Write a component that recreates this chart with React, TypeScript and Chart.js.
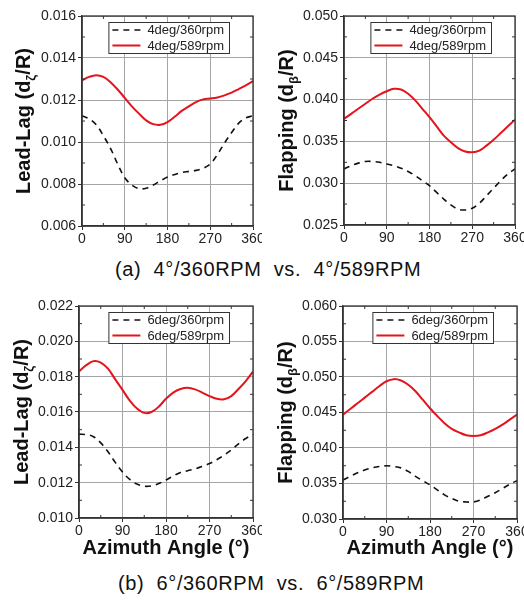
import React, { useEffect, useRef } from 'react';
import { Chart, registerables } from 'chart.js';
Chart.register(...registerables);

const FONT = '"Liberation Sans", Arial, Helvetica, sans-serif';
Chart.defaults.font.family = FONT;

// azimuth angle (deg)
const azimuth = [0, 15, 30, 45, 60, 75, 90, 105, 120, 135, 150, 165, 180, 195, 210, 225, 240, 255, 270, 285, 300, 315, 330, 345, 360];
const xTickValues = [0, 90, 180, 270, 360];

// (a) 4 deg
const leadLag4deg360 = [0.01125, 0.0111, 0.01082, 0.0103, 0.0097, 0.00895, 0.0083, 0.00795, 0.00778, 0.0078, 0.00795, 0.00815, 0.00833, 0.00845, 0.00855, 0.0086, 0.00865, 0.00875, 0.00895, 0.0094, 0.00995, 0.01045, 0.0109, 0.01115, 0.01125];
const leadLag4deg589 = [0.01294, 0.0131, 0.01318, 0.0131, 0.01285, 0.0125, 0.0121, 0.0117, 0.01135, 0.01103, 0.01085, 0.01082, 0.01095, 0.0112, 0.01148, 0.0117, 0.0119, 0.01203, 0.01207, 0.01212, 0.01222, 0.01235, 0.01252, 0.0127, 0.0129];
const flap4deg360 = [0.0317, 0.0321, 0.0324, 0.0326, 0.0326, 0.0325, 0.0323, 0.0321, 0.0318, 0.0314, 0.0309, 0.0303, 0.0297, 0.0289, 0.0281, 0.0274, 0.0269, 0.0268, 0.027, 0.0276, 0.0285, 0.0294, 0.0303, 0.0311, 0.0317];
const flap4deg589 = [0.0377, 0.0383, 0.0389, 0.0395, 0.0401, 0.0406, 0.041, 0.0413, 0.0412, 0.0407, 0.0399, 0.0389, 0.0379, 0.0368, 0.0357, 0.0349, 0.0342, 0.0338, 0.0337, 0.0339, 0.0345, 0.0352, 0.036, 0.0368, 0.0376];

// (b) 6 deg
const leadLag6deg360 = [0.01475, 0.01472, 0.0146, 0.01425, 0.01375, 0.01315, 0.0126, 0.01218, 0.01192, 0.0118, 0.01182, 0.01195, 0.01215, 0.01238, 0.01258, 0.01268, 0.01278, 0.01292, 0.01308, 0.0133, 0.01355, 0.01385, 0.0142, 0.0145, 0.01472];
const leadLag6deg589 = [0.0183, 0.01865, 0.01888, 0.0188, 0.01845, 0.01785, 0.01725, 0.01665, 0.0162, 0.01595, 0.016, 0.0163, 0.01675, 0.0171, 0.0173, 0.01737, 0.01728, 0.0171, 0.0169, 0.01675, 0.01672, 0.0169, 0.0173, 0.01775, 0.01828];
const flap6deg360 = [0.0355, 0.036, 0.0365, 0.0369, 0.0372, 0.0374, 0.0375, 0.0374, 0.0372, 0.0367, 0.036, 0.0354, 0.0348, 0.0341, 0.0334, 0.0329, 0.0325, 0.0324, 0.0324, 0.0327, 0.0332, 0.0337, 0.0343, 0.0349, 0.0354];
const flap6deg589 = [0.0447, 0.0455, 0.0463, 0.0471, 0.0479, 0.0487, 0.0494, 0.0497, 0.0495, 0.0489, 0.048, 0.0468, 0.0456, 0.0445, 0.0435, 0.0427, 0.0422, 0.0418, 0.0417, 0.0418, 0.0422, 0.0427, 0.0433, 0.044, 0.0447];

const labels4 = ['4deg/360rpm', '4deg/589rpm'];
const labels6 = ['6deg/360rpm', '6deg/589rpm'];
const leadLagTitle = ['Lead-Lag (d', 'ζ', '/R)'];
const flapTitle = ['Flapping (d', 'β', '/R)'];
const xTitle = 'Azimuth Angle (°)';
const captionA = '(a)  4°/360RPM  vs.  4°/589RPM';
const captionB = '(b)  6°/360RPM  vs.  6°/589RPM';

type PanelProps = {
  left: number; top: number; width: number; height: number;
  ca: { l: number; r: number; t: number; b: number };
  yMin: number; yMax: number; yStep: number;
  yTitle: string[]; yTitleX: number;
  labels: string[]; low: number[]; high: number[];
  showXTitle: boolean;
};

function Panel(p: PanelProps) {
  const ref = useRef<HTMLCanvasElement | null>(null);
  useEffect(() => {
    if (!ref.current) return;
    const framePlugin = {
      id: 'frameExtras',
      afterDatasetsDraw(chart: any) {
        const { ctx, chartArea: ca } = chart;
        const xs = chart.scales.x, ys = chart.scales.y;
        ctx.save();
        // frame
        ctx.strokeStyle = '#333';
        ctx.lineWidth = 1.3;
        ctx.strokeRect(ca.left, ca.top, ca.right - ca.left, ca.bottom - ca.top);
        // minor ticks
        ctx.lineWidth = 1;
        ctx.beginPath();
        for (let i = 0; i < xTickValues.length - 1; i++) {
          const v = (xTickValues[i] + xTickValues[i + 1]) / 2;
          const px = xs.getPixelForValue(v);
          ctx.moveTo(px, ca.bottom); ctx.lineTo(px, ca.bottom - 3);
          ctx.moveTo(px, ca.top); ctx.lineTo(px, ca.top + 3);
        }
        const n = Math.round((p.yMax - p.yMin) / p.yStep);
        for (let i = 0; i < n; i++) {
          const v = p.yMin + p.yStep * (i + 0.5);
          const py = ys.getPixelForValue(v);
          ctx.moveTo(ca.left, py); ctx.lineTo(ca.left + 3, py);
          ctx.moveTo(ca.right, py); ctx.lineTo(ca.right - 3, py);
        }
        ctx.stroke();
        // legend
        ctx.font = '13px ' + FONT;
        const tw = Math.max(...chart.data.datasets.map((d: any) => ctx.measureText(d.label).width));
        const boxW = 4 + 28 + 7 + tw + 5;
        const boxR = ca.right - 24;
        const boxL = boxR - boxW;
        const boxT = ca.top + 6;
        const boxH = 31;
        ctx.fillStyle = '#fff';
        ctx.fillRect(boxL, boxT, boxW, boxH);
        ctx.strokeStyle = '#333';
        ctx.lineWidth = 1;
        ctx.strokeRect(boxL + 0.5, boxT + 0.5, boxW, boxH);
        chart.data.datasets.forEach((d: any, i: number) => {
          const y = boxT + 8 + i * 15.5;
          ctx.save();
          ctx.strokeStyle = d.borderColor;
          ctx.lineWidth = d.borderWidth;
          ctx.setLineDash(d.borderDash || []);
          ctx.beginPath();
          ctx.moveTo(boxL + 4, y); ctx.lineTo(boxL + 32, y);
          ctx.stroke();
          ctx.restore();
          ctx.fillStyle = '#222';
          ctx.textBaseline = 'middle';
          ctx.textAlign = 'left';
          ctx.fillText(d.label, boxL + 39, y + 0.5);
        });
        ctx.restore();
      },
      afterDraw(chart: any) {
        const { ctx, chartArea: ca } = chart;
        ctx.save();
        const cy = (ca.top + ca.bottom) / 2;
        ctx.translate(p.yTitleX, cy);
        ctx.rotate(-Math.PI / 2);
        const big = 'bold 20px ' + FONT;
        const small = 'bold 13px ' + FONT;
        ctx.font = big;
        const w0 = ctx.measureText(p.yTitle[0]).width;
        const w2 = ctx.measureText(p.yTitle[2]).width;
        ctx.font = small;
        const w1 = ctx.measureText(p.yTitle[1]).width;
        let x = -(w0 + w1 + w2) / 2;
        ctx.fillStyle = '#111';
        ctx.textBaseline = 'alphabetic';
        ctx.textAlign = 'left';
        ctx.font = big;
        ctx.fillText(p.yTitle[0], x, 7);
        x += w0;
        ctx.font = small;
        ctx.fillText(p.yTitle[1], x, 12);
        x += w1;
        ctx.font = big;
        ctx.fillText(p.yTitle[2], x, 7);
        ctx.restore();
      },
    };

    const chart = new Chart(ref.current, {
      type: 'line',
      data: {
        datasets: [
          {
            label: p.labels[0],
            data: azimuth.map((a, i) => ({ x: a, y: p.low[i] })),
            borderColor: '#111',
            borderWidth: 1.6,
            borderDash: [6, 5],
            pointRadius: 0,
            tension: 0.35,
            fill: false,
          },
          {
            label: p.labels[1],
            data: azimuth.map((a, i) => ({ x: a, y: p.high[i] })),
            borderColor: '#e3141c',
            borderWidth: 2,
            pointRadius: 0,
            tension: 0.35,
            fill: false,
          },
        ],
      },
      options: {
        responsive: false,
        animation: false,
        devicePixelRatio: 1,
        layout: { padding: { left: 0, top: p.ca.t, right: p.width - p.ca.r, bottom: 0 } },
        plugins: { legend: { display: false }, tooltip: { enabled: false } },
        scales: {
          x: {
            type: 'linear',
            min: 0,
            max: 360,
            afterBuildTicks: (s: any) => { s.ticks = xTickValues.map((v) => ({ value: v })); },
            afterFit: (s: any) => { s.height = p.height - p.ca.b; s.paddingLeft = 0; s.paddingRight = 0; },
            ticks: { font: { size: 14 }, color: '#222', padding: 1, maxRotation: 0, autoSkip: false },
            grid: { color: '#a4a4a4', lineWidth: 1, tickLength: 4, tickColor: '#333' },
            border: { display: true, color: '#333', width: 1.3 },
            title: {
              display: p.showXTitle,
              text: xTitle,
              color: '#111',
              font: { size: 20, weight: 'bold' },
              padding: { top: 0, bottom: 10 },
            },
          },
          y: {
            type: 'linear',
            min: p.yMin,
            max: p.yMax,
            afterBuildTicks: (s: any) => {
              const n = Math.round((p.yMax - p.yMin) / p.yStep);
              const t = [];
              for (let i = 0; i <= n; i++) t.push({ value: p.yMin + i * p.yStep });
              s.ticks = t;
            },
            afterFit: (s: any) => { s.width = p.ca.l; },
            ticks: {
              font: { size: 14 },
              color: '#222',
              padding: 2,
              callback: (v: any) => Number(v).toFixed(3),
            },
            grid: { color: '#a4a4a4', lineWidth: 1, tickLength: 4, tickColor: '#333' },
            border: { display: true, color: '#333', width: 1.3 },
          },
        },
      },
      plugins: [framePlugin],
    } as any);
    return () => chart.destroy();
  }, []);
  return (
    <canvas
      ref={ref}
      width={p.width}
      height={p.height}
      style={{ position: 'absolute', left: p.left, top: p.top, width: p.width, height: p.height }}
    />
  );
}

const captionStyle: React.CSSProperties = {
  position: 'absolute',
  fontFamily: FONT,
  fontSize: 20,
  lineHeight: '20px',
  letterSpacing: '0.6px',
  whiteSpace: 'pre',
  color: '#111',
};

export default function App() {
  return (
    <div style={{ position: 'fixed', left: 0, top: 0, width: 524, height: 600, background: '#fff', overflow: 'hidden' }}>
      <Panel left={0} top={0} width={262} height={255} ca={{ l: 82, r: 253, t: 16, b: 226 }}
        yMin={0.006} yMax={0.016} yStep={0.002} yTitle={leadLagTitle} yTitleX={23}
        labels={labels4} low={leadLag4deg360} high={leadLag4deg589} showXTitle={false} />
      <Panel left={262} top={0} width={262} height={255} ca={{ l: 82, r: 253, t: 16, b: 225 }}
        yMin={0.025} yMax={0.05} yStep={0.005} yTitle={flapTitle} yTitleX={24}
        labels={labels4} low={flap4deg360} high={flap4deg589} showXTitle={false} />
      <Panel left={0} top={290} width={262} height={280} ca={{ l: 79, r: 253, t: 16, b: 228 }}
        yMin={0.01} yMax={0.022} yStep={0.002} yTitle={leadLagTitle} yTitleX={21}
        labels={labels6} low={leadLag6deg360} high={leadLag6deg589} showXTitle={true} />
      <Panel left={262} top={290} width={262} height={280} ca={{ l: 81, r: 255, t: 16, b: 229 }}
        yMin={0.03} yMax={0.06} yStep={0.005} yTitle={flapTitle} yTitleX={23}
        labels={labels6} low={flap6deg360} high={flap6deg589} showXTitle={true} />
      <div style={{ ...captionStyle, left: 115, top: 259 }}>{captionA}</div>
      <div style={{ ...captionStyle, left: 118, top: 573 }}>{captionB}</div>
    </div>
  );
}
